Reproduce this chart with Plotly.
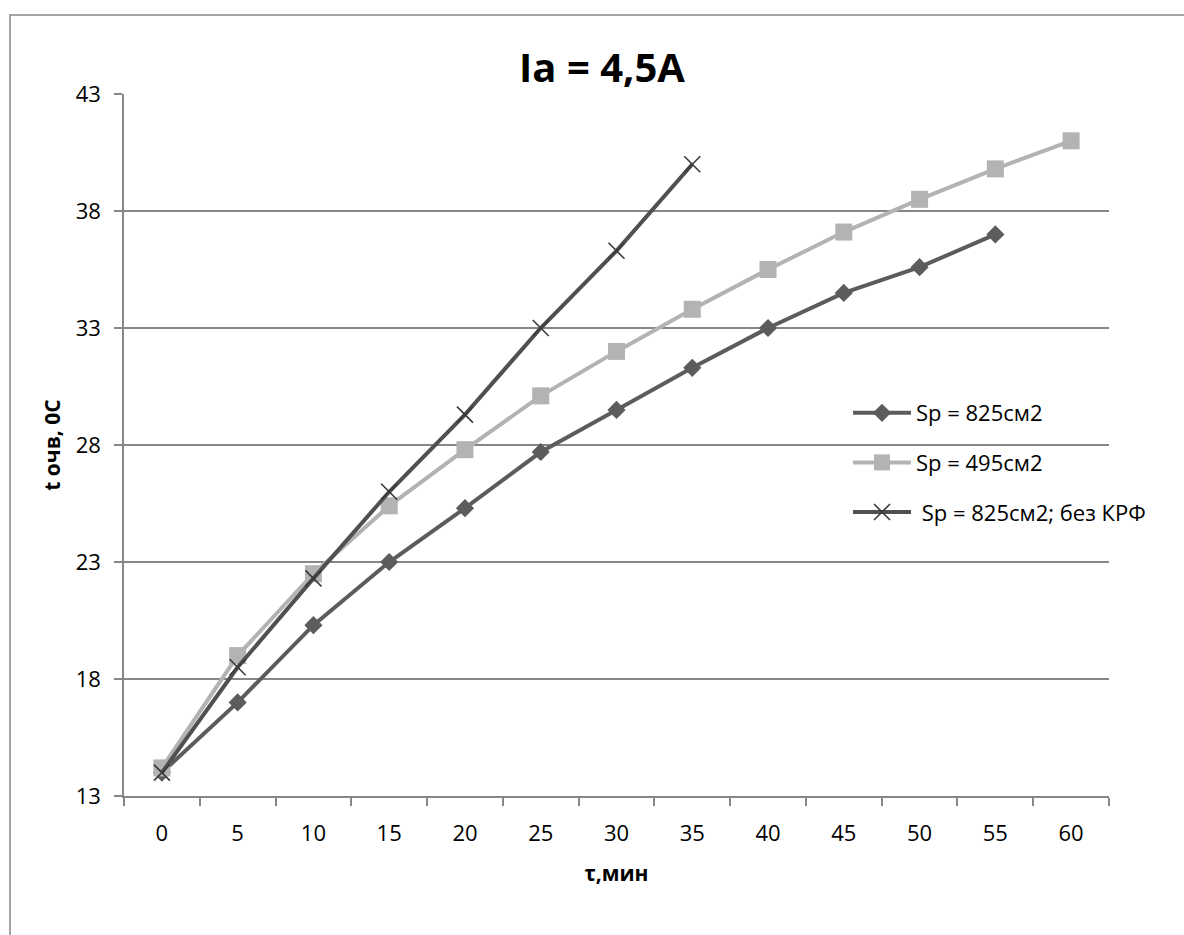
import plotly.graph_objects as go

categories = [0, 5, 10, 15, 20, 25, 30, 35, 40, 45, 50, 55, 60]
sp825 = [14, 17, 20.3, 23, 25.3, 27.7, 29.5, 31.3, 33, 34.5, 35.6, 37]
sp495 = [14.2, 19, 22.5, 25.4, 27.8, 30.1, 32, 33.8, 35.5, 37.1, 38.5, 39.8, 41]
sp825_no_krf = [14, 18.5, 22.3, 26, 29.3, 33, 36.3, 40]
y_ticks = [13, 18, 23, 28, 33, 38, 43]
names = ["Sp = 825см2", "Sp = 495см2", "\u00a0Sp = 825см2; без КРФ"]

FONT = "Open Sans"
GRID = "#878787"

fig = go.Figure()
fig.add_trace(go.Scatter(
    x=categories[:len(sp825)], y=sp825, name=names[0], mode="lines+markers",
    line=dict(color="#5c5c5c", width=4),
    marker=dict(symbol="diamond", size=14, color="#5c5c5c"),
    legendgroup="a"))
fig.add_trace(go.Scatter(
    x=categories[:len(sp495)], y=sp495, name=names[1], mode="lines+markers",
    line=dict(color="#b3b3b3", width=4),
    marker=dict(symbol="square", size=17, color="#b3b3b3"),
    legendgroup="b"))
fig.add_trace(go.Scatter(
    x=categories[:len(sp825_no_krf)], y=sp825_no_krf, name=names[2], mode="lines+markers",
    line=dict(color="#505050", width=4),
    marker=dict(symbol="x-thin", size=16, color="#3a3a3a",
                line=dict(color="#3a3a3a", width=1.6)),
    legendgroup="c"))

L, R, T, B = 124, 75, 94, 139
W, H = 1184, 935
pw, ph = W - L - R, H - T - B

def px2paper_x(px):
    return (px - L) / pw

def px2paper_y(py):
    return (H - B - py) / ph

fig.add_shape(type="rect", xref="paper", yref="paper",
              x0=px2paper_x(10), x1=px2paper_x(1195),
              y0=px2paper_y(950), y1=px2paper_y(15),
              line=dict(color=GRID, width=1.5), fillcolor="rgba(0,0,0,0)", layer="below")

fig.update_layout(
    width=W, height=H,
    margin=dict(l=L, r=R, t=T, b=B),
    paper_bgcolor="white", plot_bgcolor="white",
    font=dict(family=FONT, color="black", size=22),
    title=dict(text="<b>Ia = 4,5A</b>", x=602 / W, xref="container", xanchor="center",
               y=1 - 68 / H, yref="container", yanchor="middle",
               font=dict(family=FONT, size=40, color="black")),
    showlegend=True,
    legend=dict(x=px2paper_x(848), y=px2paper_y(392), xanchor="left", yanchor="top",
                traceorder="grouped", tracegroupgap=18, itemwidth=58,
                font=dict(family=FONT, size=22, color="black"),
                bgcolor="rgba(0,0,0,0)"),
    xaxis=dict(
        range=[-2.5, 62.5], tickmode="array", tickvals=categories,
        ticktext=[str(c) for c in categories], ticks="", showgrid=False,
        showline=True, linecolor=GRID, linewidth=1.5, zeroline=False,
        ticklabelstandoff=17,
        minor=dict(tickmode="linear", tick0=-2.5, dtick=5, ticks="outside",
                   ticklen=8, tickcolor=GRID, tickwidth=1.5, showgrid=False),
        title=dict(text="<b>τ,мин</b>", font=dict(size=21, family=FONT), standoff=20),
    ),
    yaxis=dict(
        range=[13, 43], tickmode="array", tickvals=y_ticks,
        ticks="outside", ticklen=8, tickcolor=GRID, tickwidth=1.5,
        showgrid=True, gridcolor=GRID, gridwidth=1.5,
        showline=True, linecolor=GRID, linewidth=1.5, zeroline=False,
        ticklabelstandoff=9,
        title=dict(text="<b>t очв, 0С</b>", font=dict(size=21, family=FONT), standoff=9),
    ),
)

fig.write_html("out.html")
